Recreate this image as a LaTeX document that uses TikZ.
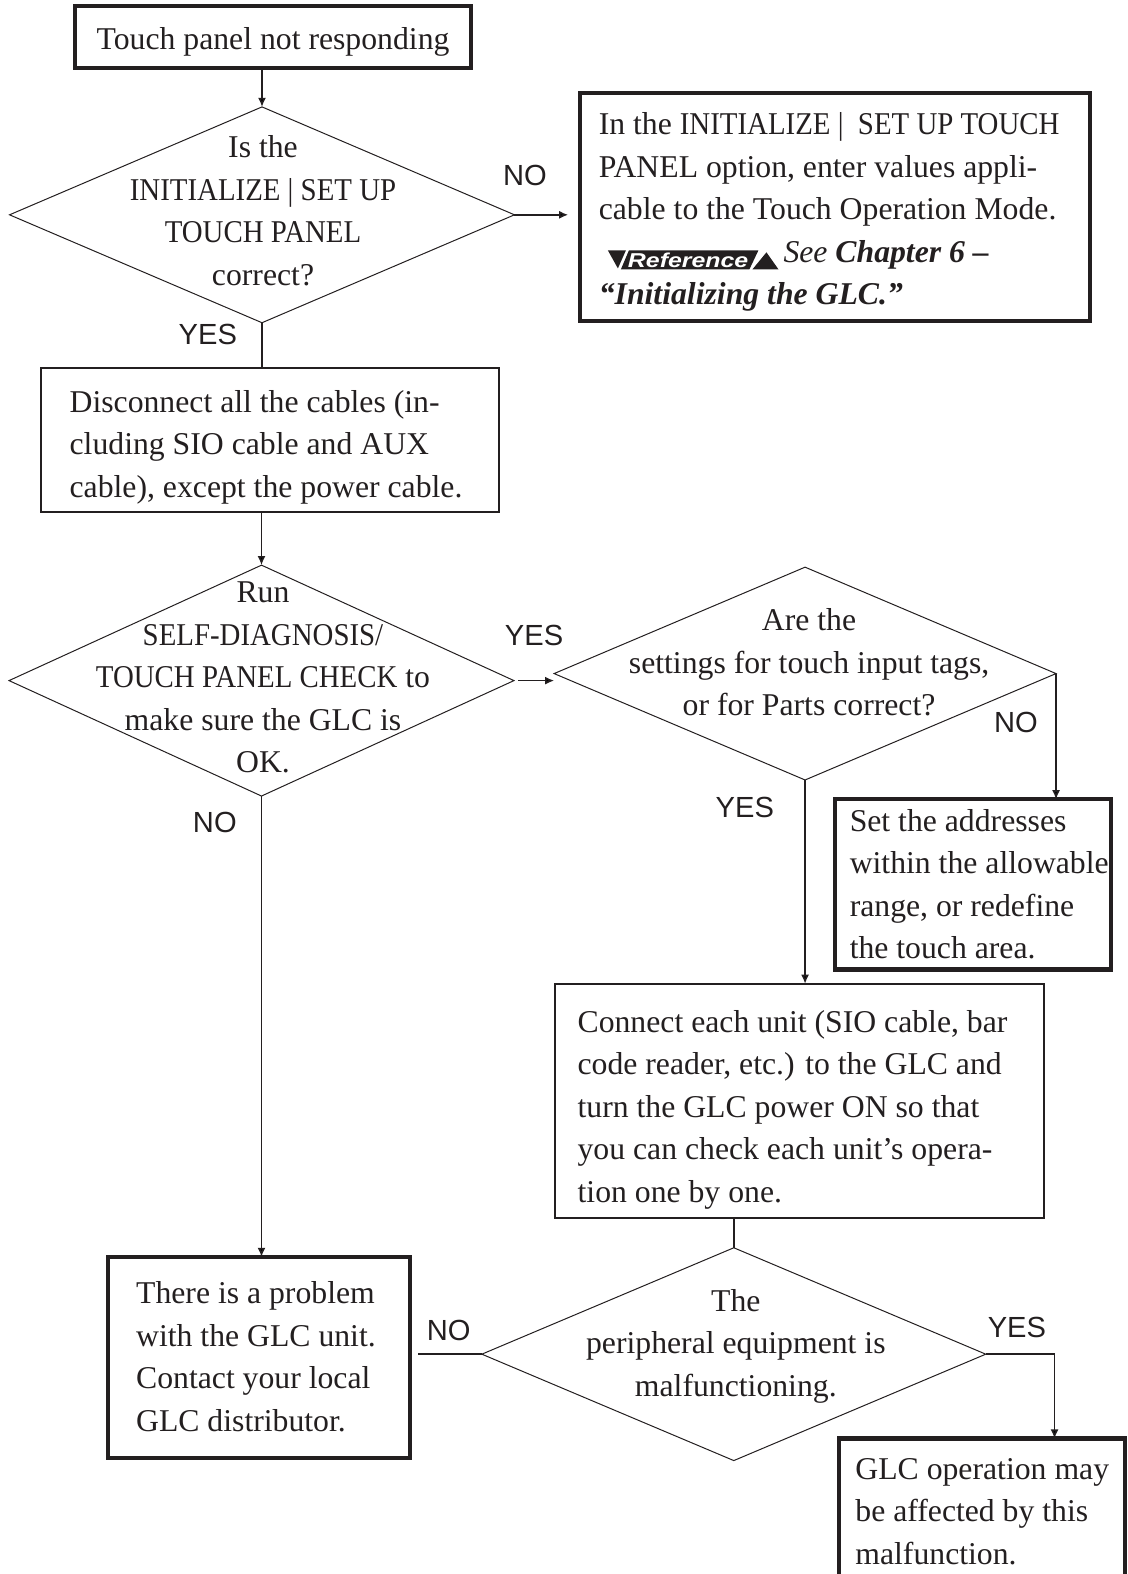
\documentclass[tikz,border=0pt]{standalone}
\usepackage{fontspec}
\usepackage{graphicx}
\setmainfont{Liberation Serif}
\setsansfont{Liberation Sans}
\usetikzlibrary{shapes.geometric,arrows.meta}
\definecolor{ink}{RGB}{35,31,32}
\newcommand{\cw}[1]{\scalebox{0.91}[1]{#1}}
% shifted text block: #1 = x shift, #2 = y raise, #3 = column spec, #4 = lines
\newcommand{\tb}[4]{\kern#1\raisebox{#2}[\height][\depth]{\begin{tabular}{@{}#3@{}}#4\end{tabular}}\kern-#1}
\newcommand{\refbadge}{\tikz[baseline=3.5pt,x=1pt,y=1pt]{%
  \fill[ink, draw=none] (0,9.5) -- (9,9.5) -- (5,0.5) -- cycle;
  \fill[ink, draw=none] (10.5,9.5) -- (75,9.5) -- (70.5,0) -- (6.5,0) -- cycle;
  \fill[ink, draw=none] (72,0) -- (85,0) -- (79,8.5) -- cycle;
  \node[draw=none, fill=none, minimum width=0pt, minimum height=0pt, inner sep=0pt, outer sep=0pt, text=white, font=\sffamily\bfseries\itshape\fontsize{10}{10}\selectfont] (rb) at (40,4.6) {\scalebox{1.24}[1]{Reference}};}}
\begin{document}
\begin{tikzpicture}[x=0.5pt,y=-0.5pt,
  every node/.style={inner sep=0pt, outer sep=0pt},
  txt/.style={font=\fontsize{15.8}{21.2}\selectfont, text=ink},
  ctxt/.style={font=\fontsize{15.8}{21.2}\selectfont, text=ink, align=center},
  thickbox/.style={draw=ink, line width=2pt, txt},
  thinbox/.style={draw=ink, line width=1pt, txt},
  dia/.style={draw=ink, diamond, line width=0.5pt},
  conn/.style={draw=ink, line width=0.8pt},
  arr/.style={conn, -{Latex[length=4.5pt,width=4pt]}},
  lab/.style={font=\sffamily\fontsize{14.5}{17}\selectfont, text=ink}]
\useasboundingbox (0,0) rectangle (1123,1568);

\node[thickbox, minimum width=197.5pt, minimum height=31pt] (b1) at (272,37) {\tb{0pt}{-2pt}{c}{Touch panel not responding}};

\node[dia, minimum width=251.5pt, minimum height=107.5pt] (d1) at (261,214) {};
\node[ctxt] (t1) at (262,210) {Is the\\\cw{INITIALIZE | SET UP}\\\cw{TOUCH PANEL}\\correct?};

\node[thickbox, minimum width=254pt, minimum height=113.5pt] (b2) at (832,206.5) {\tb{-3pt}{-2pt}{l}{In the \cw{INITIALIZE |\ \ SET UP TOUCH}\\PANEL option, enter values appli-\\cable to the Touch Operation Mode.\\\hspace*{4.5pt}\refbadge\hspace{2.5pt}\textit{See} \textbf{\textit{Chapter 6 –}}\\\textbf{\textit{“Initializing the GLC.”}}}};

\node[thinbox, minimum width=228pt, minimum height=71.5pt] (b3) at (269,438.5) {\tb{-2pt}{-3pt}{l}{Disconnect all the cables (in-\\cluding SIO cable and AUX\\cable), except the power cable.}};

\node[dia, minimum width=251.5pt, minimum height=115pt] (d2) at (260.5,678) {};
\node[ctxt] (t2) at (262,675) {Run\\\cw{SELF-DIAGNOSIS/}\\\cw{TOUCH PANEL CHECK} to\\make sure the GLC is\\OK.};

\node[dia, minimum width=250pt, minimum height=106pt] (d3) at (802,671) {};
\node[ctxt] (t3) at (806,660) {Are the\\settings for touch input tags,\\or for Parts correct?};

\node[thickbox, minimum width=137.5pt, minimum height=84pt] (b4) at (969.5,881) {\tb{3pt}{-1pt}{l}{Set the addresses\\within the allowable\\range, or redefine\\the touch area.}};

\node[thinbox, minimum width=243.5pt, minimum height=116.5pt] (b5) at (796.5,1096.5) {\tb{-3.5pt}{-4pt}{l}{Connect each unit (SIO cable, bar\\code reader, etc.) to the GLC and\\turn the GLC power ON so that\\you can check each unit’s opera-\\tion one by one.}};

\node[thickbox, minimum width=150pt, minimum height=100pt] (b6) at (258,1352) {\tb{-1.5pt}{-1pt}{l}{There is a problem\\with the GLC unit.\\Contact your local\\GLC distributor.}};

\node[dia, minimum width=251pt, minimum height=106pt] (d4) at (731,1349) {};
\node[ctxt] (t4) at (733,1341) {The\\peripheral equipment is\\malfunctioning.};

\node[thickbox, minimum width=142.5pt, minimum height=73.5pt] (b7) at (978.5,1506.5) {\tb{0pt}{-0.5pt}{l}{GLC operation may\\be affected by this\\malfunction.}};

% connectors
\draw[arr] (d1.north |- b1.south) -- (d1.north);
\draw[arr, shorten >=6pt] (d1.east) -- (d1.east -| b2.west);
\draw[conn] (d1.south) -- (d1.south |- b3.north);
\draw[arr] (d2.north |- b3.south) -- (d2.north);
\draw[arr, shorten <=2pt] (d2.east) -- (d2.east -| d3.west);
\draw[arr] (d3.east) -- (d3.east |- b4.north);
\draw[arr] (d3.south) -- (d3.south |- b5.north);
\draw[conn] (d4.north |- b5.south) -- (d4.north);
\draw[arr] (d2.south) -- (d2.south |- b6.north);
\draw[conn, shorten >=4pt] (d4.west) -- (d4.west -| b6.east);
\draw[arr] (d4.east) -| ([xshift=36pt]b7.north);

% labels
\node[lab] (l1) at (523,175) {NO};
\node[lab] (l2) at (207,333) {YES};
\node[lab] (l3) at (532,633) {YES};
\node[lab] (l4) at (214,819) {NO};
\node[lab] (l5) at (1012,720) {NO};
\node[lab] (l6) at (742,804) {YES};
\node[lab] (l7) at (447,1325) {NO};
\node[lab] (l8) at (1013,1322) {YES};
\end{tikzpicture}
\end{document}
